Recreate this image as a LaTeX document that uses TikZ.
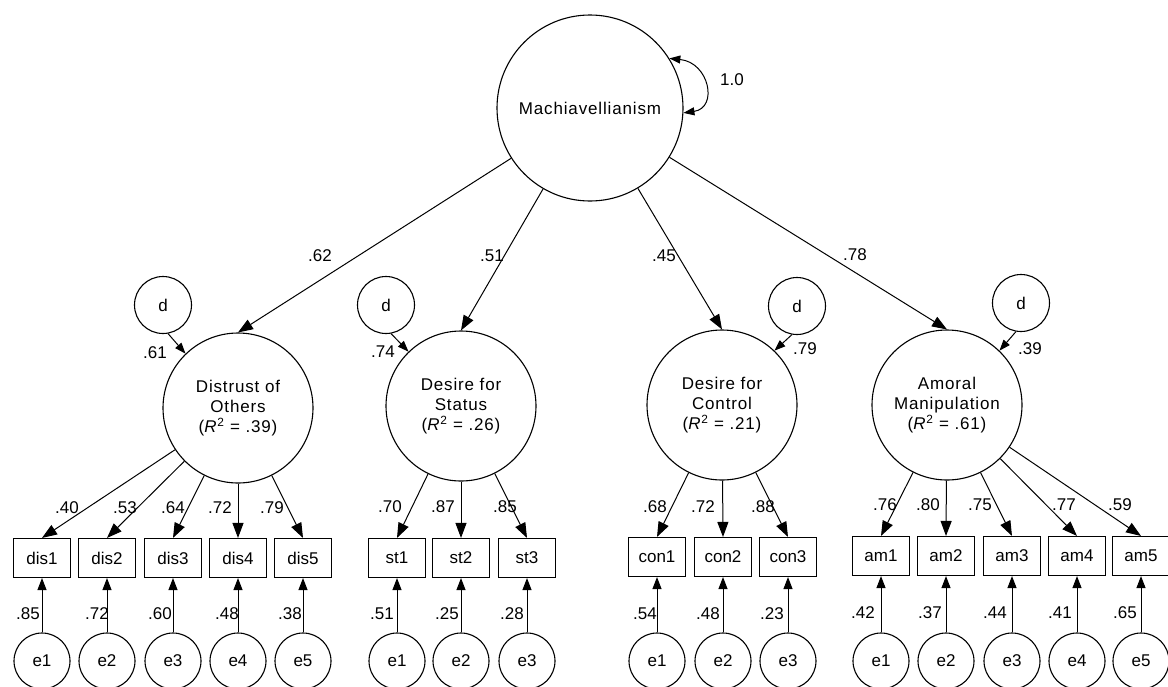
\documentclass[tikz,border=0pt]{standalone}
\usepackage{fontspec}
\setmainfont{Liberation Sans}
\newfontfamily\spacedsans{Liberation Sans}[LetterSpace=5]
\usetikzlibrary{arrows.meta}
\begin{document}
\begin{tikzpicture}[x=1pt,y=-1pt,
  every node/.style={font=\fontsize{17}{20}\selectfont},
  lat/.style={draw,circle,line width=1.1pt,inner sep=0pt,align=center},
  big/.style={lat,minimum size=186pt,font=\spacedsans\fontsize{17}{20}\selectfont},
  fac/.style={lat,minimum size=150pt,font=\spacedsans\fontsize{17}{20}\selectfont},
  dist/.style={lat,minimum size=57pt},
  err/.style={lat,minimum size=56pt},
  obs/.style={draw,line width=1.1pt,minimum width=57pt,minimum height=39pt,inner sep=0pt},
  ln/.style={line width=1pt,-{Triangle[length=15pt,width=11pt]}},
  eln/.style={line width=1pt,-{Triangle[length=12pt,width=9pt]}},
  dln/.style={line width=1pt,-{Triangle[length=11pt,width=8pt]}},
  lab/.style={inner sep=0pt}
]
\fill[white] (0,0) rectangle (1168,686);
\useasboundingbox (0,0) rectangle (1168,686);

% top latent
\node[big] (M) at (590,108) {Machiavellianism};
\draw[line width=1pt,{Triangle[length=11pt,width=8pt]}-{Triangle[length=11pt,width=8pt]}]
  (M.32) .. controls +(40,4) and +(35,-5) .. (M.-3);
\node[lab] at (732,80) {1.0};

% first-order factors
\node[fac] (F1) at (238,408) {Distrust of\\Others\\(\textit{R}\textsuperscript{2} = .39)};
\node[fac] (F2) at (461,406) {Desire for\\Status\\(\textit{R}\textsuperscript{2} = .26)};
\node[fac] (F3) at (722,405) {Desire for\\Control\\(\textit{R}\textsuperscript{2} = .21)};
\node[fac] (F4) at (947,405) {Amoral\\Manipulation\\(\textit{R}\textsuperscript{2} = .61)};

\draw[ln] (M) -- (F1.north); \node[lab] at (320,256) {.62};
\draw[ln] (M) -- (F2.north); \node[lab] at (492,256) {.51};
\draw[ln] (M) -- (F3.north); \node[lab] at (664,256) {.45};
\draw[ln] (M) -- (F4.north); \node[lab] at (855,255) {.78};

% disturbances
\node[dist] (d1) at (163,305) {d};
\node[dist] (d2) at (386,305) {d};
\node[dist] (d3) at (797,306) {d};
\node[dist] (d4) at (1021,303) {d};
\draw[dln] (d1.-80) -- (F1.134); \node[lab] at (155,353) {.61};
\draw[dln] (d2.-80) -- (F2.134); \node[lab] at (383,352) {.74};
\draw[dln] (d3.-100) -- (F3.46); \node[lab] at (805,349) {.79};
\draw[dln] (d4.-100) -- (F4.46); \node[lab] at (1030,349) {.39};

% indicators: Distrust of Others
\foreach \i/\x/\lx/\l/\ex/\el in {1/42/67/.40/28/.85, 2/107/125/.53/97/.72, 3/173/173/.64/160/.60, 4/238/220/.72/227/.48, 5/303/272/.79/290/.38} {
  \node[obs] (dis\i) at (\x,558) {dis\i};
  \node[err] (ed\i) at (\x,661) {e\i};
  \draw[ln] (F1) -- (dis\i.north);
  \draw[eln] (ed\i) -- (dis\i);
  \node[lab] at (\lx,508) {\l};
  \node[lab] at (\ex,614) {\el};
}
% Desire for Status
\foreach \i/\x/\lx/\l/\ex/\el in {1/397/390/.70/382/.51, 2/461/443/.87/447/.25, 3/527/505/.85/512/.28} {
  \node[obs] (st\i) at (\x,558) {st\i};
  \node[err] (es\i) at (\x,661) {e\i};
  \draw[ln] (F2) -- (st\i.north);
  \draw[eln] (es\i) -- (st\i);
  \node[lab] at (\lx,507) {\l};
  \node[lab] at (\ex,614) {\el};
}
% Desire for Control
\foreach \i/\x/\lx/\l/\ex/\el in {1/657/655/.68/645/.54, 2/723/703/.72/708/.48, 3/788/763/.88/772/.23} {
  \node[obs] (con\i) at (\x,557) {con\i};
  \node[err] (ec\i) at (\x,661) {e\i};
  \draw[ln] (F3) -- (con\i.north);
  \draw[eln] (ec\i) -- (con\i);
  \node[lab] at (\lx,507) {\l};
  \node[lab] at (\ex,614) {\el};
}
% Amoral Manipulation
\foreach \i/\x/\lx/\l/\ex/\el in {1/881/885/.76/863/.42, 2/946/928/.80/930/.37, 3/1012/980/.75/995/.44, 4/1077/1064/.77/1060/.41, 5/1141/1120/.59/1125/.65} {
  \node[obs] (am\i) at (\x,556) {am\i};
  \node[err] (ea\i) at (\x,661) {e\i};
  \draw[ln] (F4) -- (am\i.north);
  \draw[eln] (ea\i) -- (am\i);
  \node[lab] at (\lx,505) {\l};
  \node[lab] at (\ex,613) {\el};
}
\end{tikzpicture}
\end{document}
